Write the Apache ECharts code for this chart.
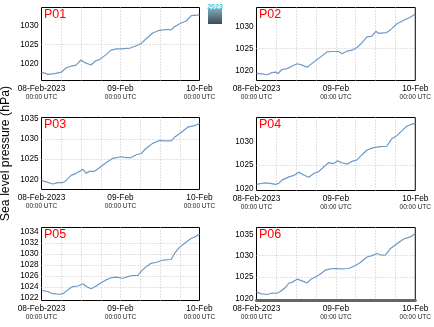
<!DOCTYPE html>
<html><head><meta charset="utf-8">
<script src="https://cdn.jsdelivr.net/npm/echarts@6/dist/echarts.min.js"></script>
<style>html,body{margin:0;padding:0;background:#fff}#c{width:434px;height:327px}</style>
</head><body><div id="c"></div>
<script>
// ---- data (hours since 08-Feb-2023 00:00 UTC, sea level pressure hPa) ----
const panelNames = ['P01', 'P02', 'P03', 'P04', 'P05', 'P06'];

const p01Hours  = [0, 2, 4, 6, 6.5, 7.5, 9, 10.5, 12, 13, 15, 16.5, 17.6, 19.6, 21, 22.7, 24, 27, 28.8, 30.3, 31.8, 33.8, 35.8, 37.8, 39.4, 40.4, 42.4, 44, 45.5, 48];
const p01Values = [1017.85, 1017.3, 1017.5, 1017.85, 1018.2, 1019.0, 1019.4, 1019.7, 1021.0, 1020.4, 1019.7, 1020.8, 1021.1, 1022.4, 1023.5, 1023.9, 1023.9, 1024.1, 1024.7, 1025.3, 1026.5, 1028.0, 1028.7, 1028.9, 1028.8, 1029.6, 1030.6, 1031.1, 1032.5, 1032.7];

const p02Hours  = [0, 1.7, 3.2, 4.7, 5.7, 6.5, 7.7, 9.3, 10.8, 12.3, 13.8, 15.3, 16.8, 18.3, 19.8, 21.3, 22.8, 24.8, 25.9, 27.4, 28.9, 30.4, 31.9, 33.4, 34.9, 36.1, 36.9, 39.4, 40.9, 42.5, 44.5, 46.5, 48];
const p02Values = [1019.3, 1019.2, 1019.0, 1019.5, 1019.6, 1019.3, 1020.2, 1020.4, 1021.0, 1021.5, 1021.2, 1020.7, 1021.6, 1022.5, 1023.3, 1024.2, 1024.3, 1024.3, 1023.8, 1024.4, 1024.6, 1025.2, 1026.3, 1027.6, 1027.8, 1028.9, 1028.4, 1028.6, 1029.5, 1030.6, 1031.4, 1032.1, 1032.8];

const p03Hours  = [0, 1.4, 3.4, 5, 6.5, 7.5, 9, 10.5, 12.6, 13.6, 14.6, 16.1, 17.6, 19.6, 21.7, 24.2, 25.7, 27.2, 28.8, 30.3, 31.8, 33.8, 35.8, 37.9, 39.4, 40.4, 42.4, 44.4, 46.5, 48];
const p03Values = [1019.75, 1019.4, 1018.85, 1019.2, 1019.2, 1019.75, 1021.0, 1021.5, 1022.5, 1021.5, 1022.0, 1022.0, 1022.9, 1024.1, 1025.2, 1025.6, 1025.4, 1025.4, 1026.1, 1026.4, 1027.7, 1028.9, 1029.6, 1029.5, 1029.5, 1030.4, 1031.6, 1032.9, 1033.3, 1033.8];

const p04Hours  = [0, 2.2, 4.2, 5.7, 6.7, 7.7, 9.8, 11.3, 12.8, 14.3, 15.8, 17.3, 18.8, 20.3, 21.8, 23.3, 24.5, 25.8, 27.4, 28.9, 30.4, 31.9, 33.4, 35.4, 37.4, 39.4, 40.9, 42.5, 44, 45.5, 47, 48];
const p04Values = [1020.9, 1021.2, 1021.1, 1020.9, 1021.1, 1021.8, 1022.5, 1022.8, 1023.5, 1022.9, 1022.4, 1023.2, 1023.6, 1024.6, 1025.5, 1025.3, 1025.9, 1025.5, 1025.2, 1025.8, 1026.1, 1027.2, 1028.2, 1028.7, 1028.9, 1029.0, 1030.6, 1031.3, 1032.3, 1033.3, 1033.7, 1033.8];

const p05Hours  = [0, 1.9, 3.4, 5.5, 6.5, 8, 9.5, 11, 12.6, 13.6, 15.1, 16.6, 18.1, 19.6, 21.2, 22.7, 24.7, 26.2, 27.7, 29.3, 30.3, 31.8, 33.3, 34.9, 36.9, 39.4, 40.4, 41.9, 43.4, 45.4, 46.9, 48];
const p05Values = [1023.4, 1023.2, 1022.8, 1022.7, 1022.8, 1023.5, 1024.1, 1024.2, 1024.6, 1024.1, 1023.7, 1024.2, 1024.8, 1025.3, 1025.7, 1025.8, 1025.6, 1025.9, 1026.1, 1026.1, 1026.9, 1027.7, 1028.3, 1028.5, 1028.9, 1029.0, 1030.1, 1031.2, 1031.9, 1032.8, 1033.2, 1033.6];

const p06Hours  = [0, 1.2, 3.2, 4.7, 6.2, 7.2, 8.8, 9.8, 10.8, 12.3, 13.8, 15.3, 16.3, 17.8, 19.3, 20.8, 22.3, 23.8, 25.8, 27.9, 29.9, 31.4, 33.4, 34.9, 36.4, 37.9, 39, 40.4, 42.5, 44.5, 46.5, 48];
const p06Values = [1021.5, 1021.1, 1020.9, 1021.25, 1021.2, 1021.6, 1022.6, 1023.6, 1023.75, 1024.5, 1024.1, 1023.6, 1024.4, 1025.0, 1025.7, 1026.6, 1026.9, 1027.0, 1026.9, 1027.0, 1027.7, 1028.4, 1029.7, 1030.0, 1030.5, 1030.1, 1030.2, 1031.6, 1032.8, 1033.9, 1034.4, 1035.2];

const yTicks = [
  [1020, 1025, 1030],
  [1020, 1025, 1030],
  [1020, 1025, 1030, 1035],
  [1020, 1025, 1030],
  [1022, 1024, 1026, 1028, 1030, 1032, 1034],
  [1020, 1025, 1030, 1035]
];
const yMin = [1015.7, 1017.7, 1017.5, 1019.6, 1021.57, 1019.5];
const yMax = [1034.6, 1034.3, 1035.3, 1035.1, 1034.8, 1036.6];

const xLabelHours = [0, 24, 48];
const xLabelDates = ['08-Feb-2023', '09-Feb', '10-Feb'];
const xLabelTimes = ['00:00 UTC', '00:00 UTC', '00:00 UTC'];

const yAxisTitle = 'Sea level pressure (hPa)';

// ---- layout ----
const hours = [p01Hours, p02Hours, p03Hours, p04Hours, p05Hours, p06Hours];
const values = [p01Values, p02Values, p03Values, p04Values, p05Values, p06Values];
const gridBoxes = [
  {left: 41.5,  top: 7.5,   width: 158, height: 73},
  {left: 256.5, top: 7.5,   width: 159, height: 73},
  {left: 41.5,  top: 117.5, width: 158, height: 72},
  {left: 256.5, top: 117.5, width: 159, height: 73},
  {left: 41.5,  top: 227.5, width: 158, height: 73},
  {left: 256.5, top: 227.5, width: 159, height: 73}
];
const FONT = 'Liberation Sans, Arial, Helvetica, sans-serif';
const dotted = {color: '#c4c4c4', type: [1, 2], width: 1};

const grid = [], xAxis = [], yAxis = [], series = [], title = [];
panelNames.forEach((name, i) => {
  const g = gridBoxes[i];
  grid.push(Object.assign({show: true, borderColor: '#000', borderWidth: 1, backgroundColor: '#fff', containLabel: false}, g));
  xAxis.push({
    type: 'value', gridIndex: i, min: 0, max: 48, interval: 6,
    axisLine: {show: i === 5, onZero: false, lineStyle: {color: '#666', width: 3}},
    axisTick: {show: false},
    splitLine: {show: true, showMinLine: false, showMaxLine: false, lineStyle: dotted},
    axisLabel: {
      show: true, margin: 4, showMinLabel: true, showMaxLabel: true,
      formatter: v => {
        const k = xLabelHours.indexOf(v);
        return k < 0 ? '' : '{a|' + xLabelDates[k] + '}\n{b|' + xLabelTimes[k] + '}';
      },
      rich: {
        a: {fontFamily: FONT, fontSize: 8.3, color: '#000', lineHeight: 9},
        b: {fontFamily: FONT, fontSize: 6.5, color: '#222', lineHeight: 8}
      }
    }
  });
  yAxis.push({
    type: 'value', gridIndex: i, min: yMin[i], max: yMax[i],
    axisLine: {show: false},
    axisTick: {show: false, customValues: yTicks[i]},
    splitLine: {show: true, showMinLine: false, showMaxLine: false, lineStyle: dotted},
    axisLabel: {customValues: yTicks[i], margin: 3, fontFamily: FONT, fontSize: 8.2, color: '#000',
                formatter: v => String(v)}
  });
  series.push({
    type: 'line', xAxisIndex: i, yAxisIndex: i, showSymbol: false, symbol: 'none',
    data: hours[i].map((h, k) => [h, values[i][k]]),
    lineStyle: {color: '#6d9ac7', width: 1.2},
    silent: true
  });
  title.push({
    text: name, left: g.left + 2.5, top: g.top + 0.5, padding: 0,
    textStyle: {fontFamily: FONT, fontSize: 12.5, fontWeight: 'normal', color: '#ff0000'}
  });
});

const chart = echarts.init(document.getElementById('c'), null, {renderer: 'canvas'});
chart.setOption({
  animation: false,
  backgroundColor: '#fff',
  title, grid, xAxis, yAxis, series,
  graphic: [
    {type: 'text', x: 6, y: 153.5, rotation: Math.PI / 2,
     style: {text: yAxisTitle, fontFamily: FONT, fontSize: 12.3, fill: '#000', align: 'center', verticalAlign: 'middle'}},
    {type: 'rect', shape: {x: 208, y: 9, width: 14, height: 15},
     style: {fill: new echarts.graphic.LinearGradient(0, 0, 0, 1, [{offset: 0, color: '#7fa7b3'}, {offset: 1, color: '#3a4a5a'}])}},
    {type: 'text', x: 215, y: 3.5, style: {text: '2023', fontFamily: FONT, fontSize: 7, fontWeight: 'bold', fill: '#3bc3d6', align: 'center', verticalAlign: 'top'}}
  ]
});
</script></body></html>
